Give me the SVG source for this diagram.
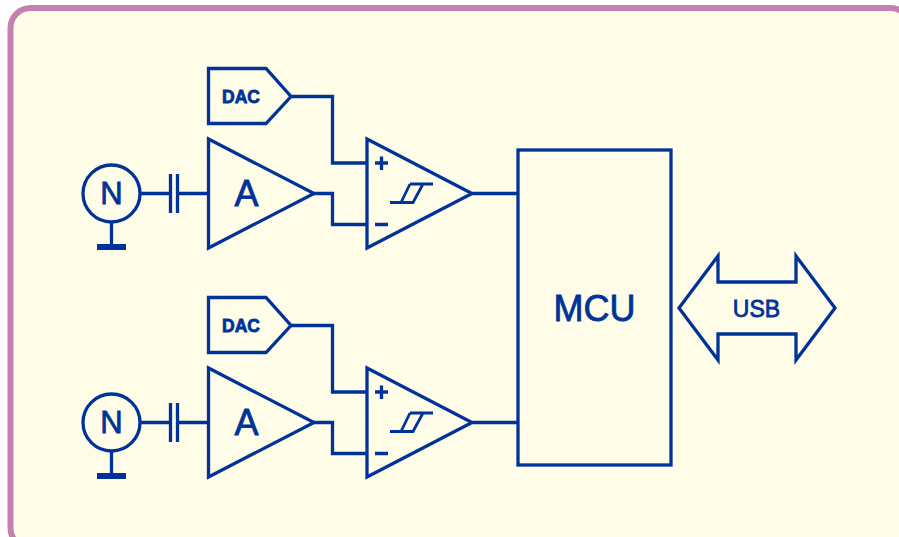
<svg xmlns="http://www.w3.org/2000/svg" width="899" height="537" viewBox="0 0 899 537">
<style>
.s{fill:none;stroke:#003399;stroke-width:3.300;stroke-linejoin:miter}
.t{fill:#003399;stroke:#003399;stroke-width:0.800;font-family:"Liberation Sans",Arial,sans-serif;text-anchor:middle}
.h{fill:none;stroke:#003399;stroke-width:2.800}
</style>
<defs>
<g id="comp">
<path class="s" d="M367 139V248L472 193.500Z"/>
<path class="s" d="M375 163H388M381.500 156.500V170M375 224.500H388"/>
<path class="h" d="M390 202.500H413L423 184M410 184H433M410 184L401 202.500"/>
</g>
<g id="dac">
<path class="s" d="M208.500 68.500H266L291 96.500L266 123.500H208.500Z"/>
<text class="t" x="241" y="102.500" font-size="17.500" font-weight="700" stroke-width="0.300">DAC</text>
</g>
<g id="amp">
<path class="s" d="M208.500 139V248L314 193.500Z"/>
<text class="t" x="246.500" y="206" font-size="36">A</text>
</g>
<g id="sensor">
<circle class="s" cx="111.500" cy="193.500" r="28.500"/>
<text class="t" x="111.500" y="204" font-size="31">N</text>
<path class="s" d="M111.500 222V245"/>
<rect x="97" y="244" width="29" height="6" fill="#003399"/>
</g>
<g id="cap">
<path class="s" d="M141 193.500H170M178 193.500H208M170.500 174V213M177.500 174V213"/>
</g>
</defs>
<g id="panel"><rect x="10.500" y="8" width="900" height="540" rx="20" ry="20" fill="#fffde7" stroke="#c580b0" stroke-width="6"/></g>
<g id="connectors">
<path class="s" d="M291 96.500H332.500V163H367M314 193.500H332.500V224.500H367M472 193.500H518"/>
<path class="s" d="M291 325.500H332.500V392H367M314 422.500H332.500V453.500H367M472 422.500H518"/>
</g>
<g id="dac1"><use href="#dac"/></g>
<g id="dac2"><use href="#dac" y="229"/></g>
<g id="sensor1"><use href="#sensor"/></g>
<g id="sensor2"><use href="#sensor" y="229"/></g>
<g id="cap1"><use href="#cap"/></g>
<g id="cap2"><use href="#cap" y="229"/></g>
<g id="amp1"><use href="#amp"/></g>
<g id="amp2"><use href="#amp" y="229"/></g>
<g id="comp1"><use href="#comp"/></g>
<g id="comp2"><use href="#comp" y="229"/></g>
<g id="mcu"><rect class="s" x="518" y="150" width="153" height="315"/><text class="t" x="594.500" y="321" font-size="36">MCU</text></g>
<g id="usb"><path class="s" d="M679 308L718 256V282H796V256L835 308L796 360V334H718V360Z"/><text class="t" x="756.500" y="317" font-size="23">USB</text></g>
</svg>
